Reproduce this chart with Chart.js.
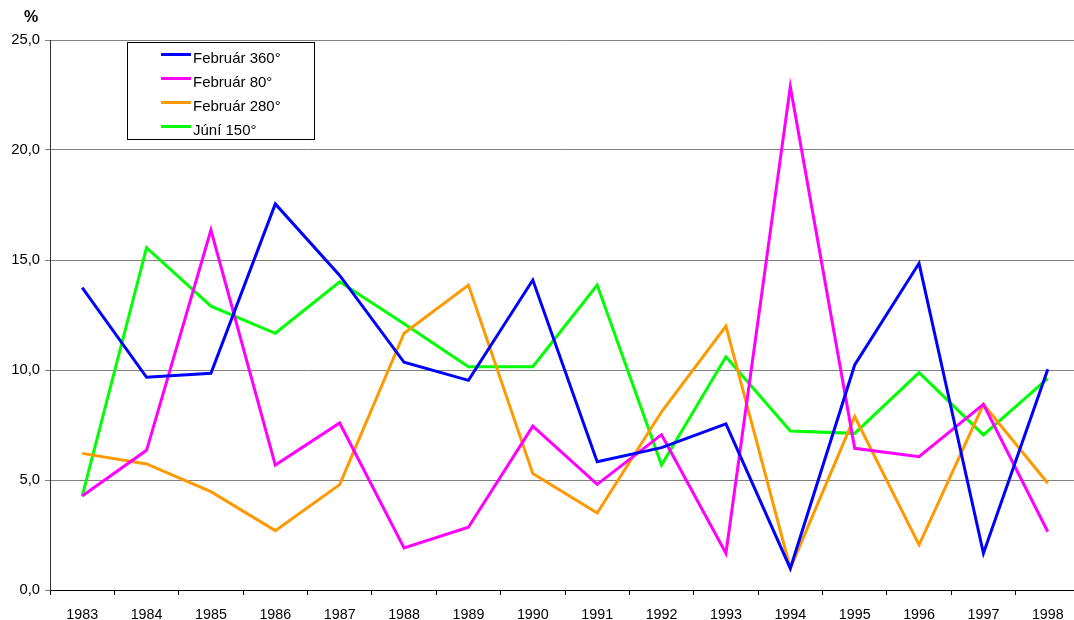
<!DOCTYPE html>
<html>
<head>
<meta charset="utf-8">
<script src="https://cdn.jsdelivr.net/npm/chart.js@4.4.1/dist/chart.umd.min.js"></script>
<style>
  html, body { margin: 0; padding: 0; background: #fff; overflow: hidden; }
  canvas { display: block; }
</style>
</head>
<body>
<canvas id="chart" width="1082" height="620"></canvas>
<script>
// Years on the category axis
const years = ['1983', '1984', '1985', '1986', '1987', '1988', '1989', '1990',
               '1991', '1992', '1993', '1994', '1995', '1996', '1997', '1998'];

// Series values (%)
const feb360 = [13.74, 9.67, 9.85, 17.55, 14.3, 10.35, 9.53, 14.09, 5.83, 6.47, 7.55, 0.98, 10.23, 14.85, 1.67, 10.03];
const feb80  = [4.27, 6.35, 16.36, 5.68, 7.59, 1.91, 2.85, 7.45, 4.8, 7.06, 1.67, 22.88, 6.44, 6.06, 8.44, 2.65];
const feb280 = [6.21, 5.73, 4.47, 2.7, 4.79, 11.67, 13.86, 5.29, 3.5, 8.1, 12.0, 0.98, 7.88, 2.05, 8.44, 4.85];
const jun150 = [4.27, 15.56, 12.9, 11.67, 14.01, 12.1, 10.15, 10.15, 13.86, 5.68, 10.6, 7.23, 7.12, 9.88, 7.05, 9.62];

const seriesNames = ['Február 360°', 'Február 80°', 'Február 280°', 'Júní 150°'];
const yTicks = [0, 5, 10, 15, 20, 25];

const FONT = 'Arial, "Liberation Sans", sans-serif';

// "%" unit label above the value axis
const unitLabel = {
    id: 'unitLabel',
    afterDraw(chart) {
        const ctx = chart.ctx;
        ctx.save();
        ctx.font = 'bold 16px ' + FONT;
        ctx.fillStyle = '#000';
        ctx.textAlign = 'center';
        ctx.textBaseline = 'middle';
        ctx.fillText('%', 31, 18);
        ctx.restore();
    }
};

// Boxed legend in the top-left of the plot, Excel style
const boxLegend = {
    id: 'boxLegend',
    afterDatasetsDraw(chart) {
        const ctx = chart.ctx;
        const x0 = 127.5, y0 = 42.5, w = 187, h = 97;
        ctx.save();
        ctx.fillStyle = '#fff';
        ctx.fillRect(x0, y0, w, h);
        ctx.strokeStyle = '#000';
        ctx.lineWidth = 1;
        ctx.strokeRect(x0, y0, w, h);
        ctx.font = '15px ' + FONT;
        ctx.textBaseline = 'middle';
        ctx.fillStyle = '#000';
        chart.data.datasets.forEach((ds, i) => {
            const yy = 54.5 + i * 24;
            ctx.strokeStyle = ds.borderColor;
            ctx.lineWidth = 3;
            ctx.beginPath();
            ctx.moveTo(161, yy);
            ctx.lineTo(191, yy);
            ctx.stroke();
            ctx.fillText(ds.label, 193, yy + 4);
        });
        ctx.restore();
    }
};

const makeSet = (label, data, color) => ({
    label,
    data,
    borderColor: color,
    backgroundColor: color,
    borderWidth: 3,
    pointRadius: 0,
    tension: 0,
    fill: false,
});

new Chart(document.getElementById('chart'), {
    type: 'line',
    data: {
        labels: years,
        datasets: [
            makeSet(seriesNames[0], feb360, '#0000ff'),
            makeSet(seriesNames[1], feb80, '#ff00ff'),
            makeSet(seriesNames[2], feb280, '#ff9900'),
            makeSet(seriesNames[3], jun150, '#00ff00'),
        ],
    },
    options: {
        responsive: false,
        animation: false,
        layout: { padding: { top: 40, right: 2, left: 0, bottom: 0 } },
        plugins: {
            legend: { display: false },
            tooltip: { enabled: false },
        },
        scales: {
            x: {
                type: 'category',
                offset: true,
                afterFit: s => { s.height = 30; },
                grid: { offset: true, drawOnChartArea: false, drawTicks: true, tickLength: 5, color: '#000' },
                border: { display: true, color: '#000', width: 1 },
                ticks: { autoSkip: false, maxRotation: 0, padding: 11, color: '#000', font: { family: FONT, size: 14.3 } },
            },
            y: {
                min: 0,
                max: 25,
                afterFit: s => { s.width = 50; },
                afterBuildTicks: s => { s.ticks = yTicks.map(v => ({ value: v })); },
                grid: { color: '#808080', lineWidth: 1, tickLength: 5 },
                border: { display: true, color: '#333', width: 1 },
                ticks: {
                    padding: 5,
                    color: '#000',
                    font: { family: FONT, size: 14.8 },
                    callback: v => v.toFixed(1).replace('.', ','),
                },
            },
        },
    },
    plugins: [unitLabel, boxLegend],
});
</script>
</body>
</html>
